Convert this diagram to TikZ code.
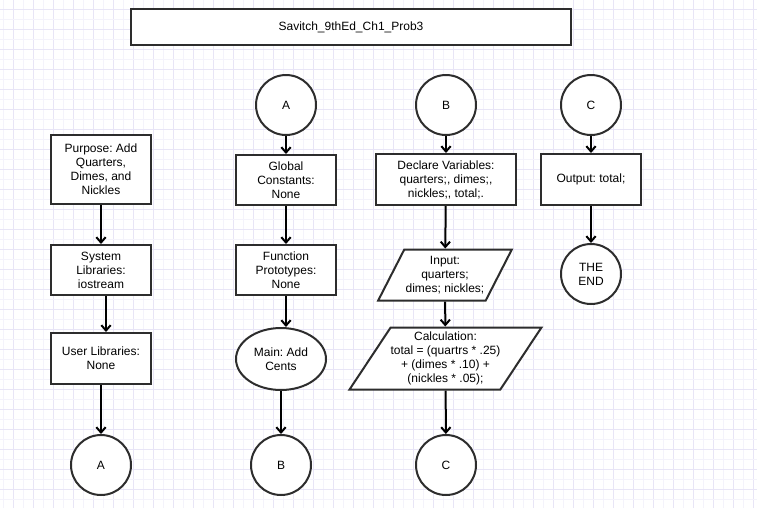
\documentclass[tikz,border=0pt]{standalone}
\usepackage{fontspec}
\setmainfont{Liberation Sans}
\usetikzlibrary{shapes.geometric,arrows.meta}
\definecolor{gridlo}{RGB}{244,243,251}
\definecolor{gridhi}{RGB}{232,229,246}
\definecolor{linegray}{RGB}{45,45,45}
\frenchspacing

\begin{document}
\begin{tikzpicture}[x=0.75pt, y=-0.75pt,
  every node/.style={font=\fontsize{9pt}{10.5pt}\selectfont, align=center, inner sep=0pt},
  box/.style={rectangle, draw=linegray, line width=1.5pt, fill=white, minimum width=75pt, minimum height=37.5pt},
  conn/.style={circle, draw=linegray, line width=1.5pt, fill=white, minimum size=45pt},
  io/.style={trapezium, trapezium stretches=true, draw=linegray, line width=1.5pt, fill=white},
  flow/.style={-{Straight Barb[length=4pt,width=7pt]}, line width=1.5pt}]
\useasboundingbox (0,0) rectangle (757,508);
% grid paper
\fill[white] (0,0) rectangle (757,508);
\foreach \i in {0,...,75} {
  \pgfmathsetmacro\xx{3.5+10*\i}
  \ifodd\i \def\gc{gridhi}\else \def\gc{gridlo}\fi
  \draw[\gc, line width=0.75pt] (\xx,0) -- (\xx,508);
}
\foreach \j in {0,...,50} {
  \pgfmathsetmacro\yy{9.5+10*\j}
  \ifodd\j \def\gc{gridlo}\else \def\gc{gridhi}\fi
  \draw[\gc, line width=0.75pt] (0,\yy) -- (757,\yy);
}

\node[box, minimum width=330pt, minimum height=27pt] (n0) at (351,27) {Savitch\_9thEd\_Ch1\_Prob3};

% column 1
\node[box, minimum height=51.75pt] (n1) at (101,169.5) {Purpose: Add\\Quarters,\\Dimes, and\\Nickles};
\node[box] (n2) at (101,270) {System\\Libraries:\\iostream};
\node[box, minimum height=38.25pt] (n3) at (101,358.5) {User Libraries:\\None};
\node[conn] (n4) at (101,465) {A};
% column 2
\node[conn] (n5) at (286,105) {A};
\node[box] (n6) at (286,180) {Global\\Constants:\\None};
\node[box] (n7) at (286,270) {Function\\Prototypes:\\None};
\node[ellipse, draw=linegray, line width=1.5pt, fill=white, minimum width=67.5pt, minimum height=46.5pt] (n8) at (281,359) {Main: Add\\Cents};
\node[conn] (n9) at (281,465) {B};
% column 3
\node[conn] (n10) at (446,105) {B};
\node[box, minimum width=105pt, minimum height=38.25pt] (n11) at (446,179.5) {Declare Variables:\\quarters;, dimes;,\\nickles;, total;.};
\node[io, trapezium left angle=56.3, trapezium right angle=123.7, minimum width=100.5pt, minimum height=38.25pt] (n12) at (445,275) {Input:\\quarters;\\dimes; nickles;};
\node[io, trapezium left angle=52.3, trapezium right angle=127.7, minimum width=141pt, minimum height=46.5pt] (n13) at (445.5,358.5) {Calculation:\\total = (quartrs * .25)\\+ (dimes * .10) +\\(nickles * .05);};
\node[conn] (n14) at (446,465) {C};
% column 4
\node[conn] (n15) at (591,105) {C};
\node[box, minimum height=38.25pt] (n16) at (591,179.5) {Output: total;};
\node[conn] (n17) at (591,274) {THE\\END};

\draw[flow] (n1) -- (n2);
\draw[flow] ([xshift=3.75pt]n2.south) -- ([xshift=3.75pt]n3.north);
\draw[flow] (n3) -- (n4);
\draw[flow] (n5) -- (n6);
\draw[flow] (n6) -- (n7);
\draw[flow] (n7.south) -- (n8.north -| n7.south);
\draw[flow] (n8) -- (n9);
\draw[flow] (n10) -- (n11);
\draw[flow] (n11) -- (n12);
\draw[flow] (n12) -- (n13);
\draw[flow] (n13) -- (n14);
\draw[flow] (n15) -- (n16);
\draw[flow] (n16) -- (n17);
\end{tikzpicture}
\end{document}
